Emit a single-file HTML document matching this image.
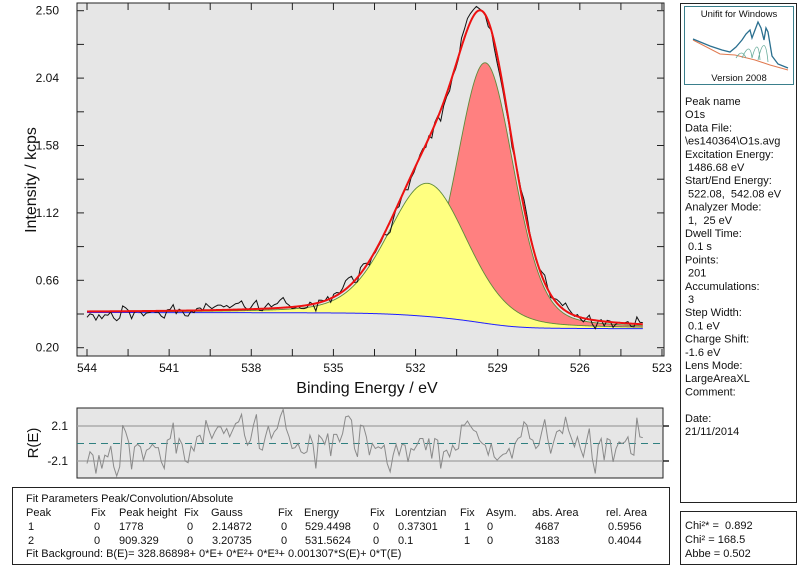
<!DOCTYPE html>
<html><head><meta charset="utf-8"><style>
body{margin:0;background:#fff;font-family:"Liberation Sans",sans-serif;}
svg{display:block}
text{font-family:"Liberation Sans",sans-serif;fill:#111}
</style></head><body>
<svg id="s" width="800" height="572" viewBox="0 0 800 572">
<rect x="77" y="3" width="587" height="353" fill="#e6e6e6" stroke="#222" stroke-width="1"/>
<g id="main"></g>
<text x="367" y="393" font-size="16" text-anchor="middle">Binding Energy / eV</text>
<text transform="translate(36,180) rotate(-90)" font-size="16" text-anchor="middle">Intensity / kcps</text>
<rect x="77" y="408" width="586" height="70" fill="#e6e6e6" stroke="#222" stroke-width="1"/>
<g id="resid"></g>
<text transform="translate(38,443) rotate(-90)" font-size="15" text-anchor="middle">R(E)</text>
<rect x="12.5" y="487.5" width="657" height="77" fill="#fff" stroke="#222"/>
<g font-size="11">
<text x="26" y="502">Fit Parameters Peak/Convolution/Absolute</text>
<text y="516"><tspan x="26">Peak</tspan><tspan x="91">Fix</tspan><tspan x="119">Peak height</tspan><tspan x="184">Fix</tspan><tspan x="211">Gauss</tspan><tspan x="278">Fix</tspan><tspan x="304">Energy</tspan><tspan x="370">Fix</tspan><tspan x="395">Lorentzian</tspan><tspan x="460">Fix</tspan><tspan x="486">Asym.</tspan><tspan x="532">abs. Area</tspan><tspan x="606">rel. Area</tspan></text>
<text y="530"><tspan x="28">1</tspan><tspan x="94">0</tspan><tspan x="119">1778</tspan><tspan x="187">0</tspan><tspan x="212">2.14872</tspan><tspan x="281">0</tspan><tspan x="305">529.4498</tspan><tspan x="373">0</tspan><tspan x="398">0.37301</tspan><tspan x="464">1</tspan><tspan x="487">0</tspan><tspan x="535">4687</tspan><tspan x="608">0.5956</tspan></text>
<text y="544"><tspan x="28">2</tspan><tspan x="94">0</tspan><tspan x="119">909.329</tspan><tspan x="187">0</tspan><tspan x="212">3.20735</tspan><tspan x="281">0</tspan><tspan x="305">531.5624</tspan><tspan x="373">0</tspan><tspan x="398">0.1</tspan><tspan x="464">1</tspan><tspan x="487">0</tspan><tspan x="535">3183</tspan><tspan x="608">0.4044</tspan></text>
<text x="26" y="557">Fit Background: B(E)= 328.86898+ 0*E+ 0*E²+ 0*E³+ 0.001307*S(E)+ 0*T(E)</text>
</g>
<rect x="680.5" y="3.5" width="116" height="499" fill="#fff" stroke="#222"/>
<rect x="684.5" y="6.5" width="109" height="78" fill="#fff" stroke="#3a7f8c"/>
<text x="739" y="17" font-size="9.5" text-anchor="middle" fill="#333">Unifit for Windows</text>
<text x="739" y="81" font-size="9.5" text-anchor="middle" fill="#333">Version 2008</text>
<path d="M693 40 L720 54 L735 55 L755 60 L770 65 L788 70" fill="none" stroke="#e07a50" stroke-width="1"/>
<path d="M742 58 Q750 40 752 58 M752 58 Q758 35 760 60 M758 60 Q765 30 768 62 M736 58 Q742 48 746 58" fill="none" stroke="#6a9" stroke-width="0.8"/>
<path d="M693 39 L710 46 L722 50 L730 52 L736 47 L742 40 L746 34 L750 30 L752 38 L755 30 L758 22 L761 28 L764 40 L766 28 L768 32 L772 56 L778 64 L788 68" fill="none" stroke="#2a6f8f" stroke-width="1.3"/>
<g font-size="11">
<text x="685" y="105">Peak name</text>
<text x="685" y="118.2">O1s</text>
<text x="685" y="131.4">Data File:</text>
<text x="685" y="144.6">\es140364\O1s.avg</text>
<text x="685" y="157.8">Excitation Energy:</text>
<text x="685" y="171">&#160;1486.68 eV</text>
<text x="685" y="184.2">Start/End Energy:</text>
<text x="685" y="197.4">&#160;522.08,&#160; 542.08 eV</text>
<text x="685" y="210.6">Analyzer Mode:</text>
<text x="685" y="223.8">&#160;1,&#160; 25 eV</text>
<text x="685" y="237">Dwell Time:</text>
<text x="685" y="250.2">&#160;0.1 s</text>
<text x="685" y="263.4">Points:</text>
<text x="685" y="276.6">&#160;201</text>
<text x="685" y="289.8">Accumulations:</text>
<text x="685" y="303">&#160;3</text>
<text x="685" y="316.2">Step Width:</text>
<text x="685" y="329.4">&#160;0.1 eV</text>
<text x="685" y="342.6">Charge Shift:</text>
<text x="685" y="355.8">-1.6 eV</text>
<text x="685" y="369">Lens Mode:</text>
<text x="685" y="382.2">LargeAreaXL</text>
<text x="685" y="395.4">Comment:</text>
<text x="685" y="421.8">Date:</text>
<text x="685" y="435">21/11/2014</text>
</g>
<rect x="680.5" y="511.5" width="116" height="53" fill="#fff" stroke="#222"/>
<g font-size="11">
<text x="685" y="529">Chi²* =&#160; 0.892</text>
<text x="685" y="543">Chi² = 168.5</text>
<text x="685" y="557">Abbe = 0.502</text>
</g>
</svg>
<script>
// ---- data ----
const xTicks = [544, 541, 538, 535, 532, 529, 526, 523];
const yTicks = [0.20, 0.66, 1.12, 1.58, 2.04, 2.50];
const yTickLabels = ["0.20", "0.66", "1.12", "1.58", "2.04", "2.50"];
const residTicks = [2.1, -2.1];
const residTickLabels = ["2.1", "-2.1"];
const peakCenters = [529.4498, 531.5624];
const peakHeights = [1.778, 0.909];       // kcps
const peakGauss = [2.14872, 3.20735];
const peakLorentz = [0.37301, 0.1];
const bgLow = 0.33, bgHigh = 0.44;        // kcps, Shirley end points
const energyStart = 544.0, energyEnd = 523.7;
const residuals = [-2.4,-1.0,-1.4,-3.6,-1.4,-3.0,-1.4,-1.6,-0.3,-2.8,-3.9,-2.8,2.2,1.4,0.2,-3.1,-0.4,-0.1,-0.4,-2.0,-0.8,-0.6,-0.1,-0.5,-0.5,-2.2,-3.0,0.4,0.6,2.5,-1.2,0.6,-0.1,-2.1,-2.3,-0.3,-0.9,0.8,1.0,0,2.8,1.6,0.6,1.4,2.0,2.0,1.2,1.8,0.8,1.6,2.4,2.6,3.5,1.0,-0.2,0.4,2.2,3.5,-0.6,-0.8,0.8,2.1,0.6,1.4,1.8,3.2,4.1,1.8,0.8,-0.6,-0.5,0,-1.0,-1.2,-1.0,1.0,0,-3.0,1.0,0.6,-0.1,1.2,-1.5,1.1,1.1,0.2,1.2,3.2,3.3,2.8,-0.6,-1.6,2.2,
2.1,0.8,-1.4,0,-0.6,-0.4,-0.6,-0.2,-2.4,-3.4,-1.4,-0.1,-1.4,-0.1,-0.2,-2.2,-0.6,-0.8,-0.2,0.6,0.6,-0.8,0.6,-1.8,0.6,0.4,-3.0,-1.0,-0.8,-1.6,-0.2,-0.8,-0.6,2.2,2.2,2.7,2.1,1.6,1.4,0.4,0,-0.2,-1.4,0,-1.6,-2.0,-1.6,-1.3,-1.2,-0.6,-1.8,0,0.6,0.8,2.6,2.2,0.6,0.4,-0.6,-0.2,1.4,2.9,0.6,-1.2,0.2,1.4,1.6,1.2,3.2,1.6,0.6,-0.4,0.8,-0.6,-1.6,0.2,1.8,-1.8,-3.6,-0.2,0.6,-2.0,0.6,0.4,-2.2,-0.6,0.2,0,0.2,0.8,-1.2,-1.4,3.1,0.8,0.7];

// ---- axes ----
const NS = "http://www.w3.org/2000/svg";
const xS = e => 87 + (544 - e) * 27.38;
const yS = v => 347.7 - (v - 0.2) * 146.52;
const rS = r => 443.5 - r * 8.33;
const widthScale = 1.05, lorMix = 0.25;
function mk(tag, attrs, parent) {
  const el = document.createElementNS(NS, tag);
  for (const k in attrs) el.setAttribute(k, attrs[k]);
  parent.appendChild(el);
  return el;
}
const main = document.getElementById('main');
const resid = document.getElementById('resid');

function profile(i, e) {
  const G = peakGauss[i], L = peakLorentz[i];
  const f = widthScale * (0.5346 * L + Math.sqrt(0.2166 * L * L + G * G));
  const eta = lorMix;
  const x = e - peakCenters[i];
  return peakHeights[i] * ((1 - eta) * Math.exp(-4 * Math.LN2 * x * x / (f * f)) + eta / (1 + 4 * x * x / (f * f)));
}
const n = residuals.length;
const E = residuals.map((_, i) => energyStart - i * (energyStart - energyEnd) / (n - 1));
const fine = [];
for (let e = energyEnd; e <= energyStart + 1e-9; e += 0.02) fine.push(e);
const peakSum = e => peakCenters.reduce((s, _, i) => s + profile(i, e), 0);
const cum = []; let acc = 0;
fine.forEach((e, j) => { if (j) acc += (peakSum(e) + peakSum(fine[j - 1])) / 2 * 0.02; cum.push(acc); });
const bgAt = e => {
  let j = Math.min(fine.length - 1, Math.max(0, Math.round((e - energyEnd) / 0.02)));
  return bgLow + (bgHigh - bgLow) * cum[j] / acc;
};
const fitAt = e => bgAt(e) + peakSum(e);

function poly(pts) { return pts.map((p, k) => (k ? 'L' : 'M') + p[0].toFixed(2) + ' ' + p[1].toFixed(2)).join(' '); }

const fills = [['#ff8080', 'peak-1-fill'], ['#ffff80', 'peak-2-fill']];
[0, 1].forEach(i => {
  const top = fine.map(e => [xS(e), yS(bgAt(e) + profile(i, e))]);
  const bot = fine.slice().reverse().map(e => [xS(e), yS(bgAt(e))]);
  const p = mk('path', { d: poly(top.concat(bot)) + ' Z', fill: fills[i][0], stroke: 'none' }, main);
  
  
  const l = mk('path', { d: poly(top), fill: 'none', stroke: '#5f8a3a', 'stroke-width': 0.9 }, main);
  
  
});
const bgl = mk('path', { d: poly(fine.map(e => [xS(e), yS(bgAt(e))])), fill: 'none', stroke: '#2020ff', 'stroke-width': 1 }, main);


const dataPts = E.map((e, i) => { const f = fitAt(e); return [xS(e), yS(f + residuals[i] * 0.016 * Math.pow(f / 0.4, 0.3))]; });
const dl = mk('path', { d: poly(dataPts), fill: 'none', stroke: '#111', 'stroke-width': 1 }, main);


const fl = mk('path', { d: poly(fine.map(e => [xS(e), yS(fitAt(e))])), fill: 'none', stroke: '#ee1111', 'stroke-width': 2 }, main);



for (let k = 0; k < xTicks.length; k++) {
  const x = xS(xTicks[k]);
  const t = mk('text', { x: x, y: 372, 'font-size': 12, 'text-anchor': 'middle' }, main);
  t.textContent = xTicks[k];
  
  
  const vals = [xTicks[k]]; if (k < xTicks.length - 1) vals.push(xTicks[k] - 1.5);
  vals.forEach(v => {
    const xx = xS(v); if (xx < 77 || xx > 664) return;
    const a = mk('line', { x1: xx, x2: xx, y1: 356, y2: 349, stroke: '#222' }, main);
    
    
    const b = mk('line', { x1: xx, x2: xx, y1: 3, y2: 10, stroke: '#222' }, main);
    
    
  });
}
for (let k = 0; k < yTicks.length; k++) {
  const y = yS(yTicks[k]);
  const t = mk('text', { x: 59, y: y + 4, 'font-size': 12, 'text-anchor': 'end' }, main);
  t.textContent = yTickLabels[k];
  
  
  const vals = [yTicks[k]]; if (k < yTicks.length - 1) vals.push((yTicks[k] + yTicks[k + 1]) / 2);
  vals.forEach(v => {
    const yy = yS(v);
    const a = mk('line', { x1: 77, x2: 84, y1: yy, y2: yy, stroke: '#222' }, main);
    
    
    const b = mk('line', { x1: 664, x2: 657, y1: yy, y2: yy, stroke: '#222' }, main);
    
    
  });
}

residTicks.forEach((r, k) => {
  const y = rS(r);
  const g = mk('line', { x1: 77, x2: 663, y1: y, y2: y, stroke: '#a0a0a0', 'stroke-width': 1.2 }, resid);
  
  
  const tk = mk('line', { x1: 663, x2: 669, y1: y, y2: y, stroke: '#222', 'stroke-width': 1.5 }, resid);
  
  
  const t = mk('text', { x: 68, y: y + 4, 'font-size': 12, 'text-anchor': 'end' }, resid);
  t.textContent = residTickLabels[k];
  
  
});
const zl = mk('line', { x1: 77, x2: 663, y1: rS(0), y2: rS(0), stroke: '#2f8080', 'stroke-width': 1, 'stroke-dasharray': '7 5' }, resid);


const rl = mk('path', { d: poly(E.map((e, i) => [xS(e), rS(residuals[i])])), fill: 'none', stroke: '#8a8a8a', 'stroke-width': 1 }, resid);


</script>
</body></html>
